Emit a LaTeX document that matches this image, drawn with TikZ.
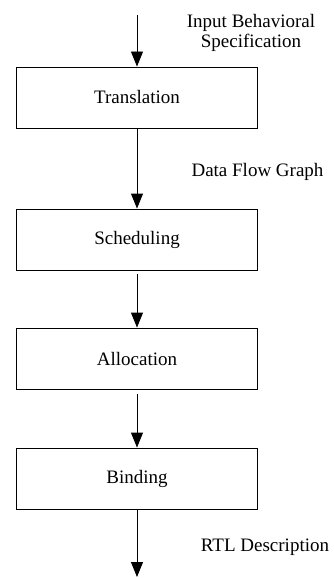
\documentclass[tikz,border=0pt]{standalone}
\usepackage{fontspec}
\setmainfont{Liberation Serif}
\usetikzlibrary{arrows.meta}

\begin{document}
\begin{tikzpicture}[x=1pt, y=-1pt, line width=0.9pt,
  >={Triangle[width=12pt,length=15pt]},
  stage/.style={draw, minimum width=241pt, minimum height=61pt, inner sep=0pt}]
\fontsize{19}{20.5}\selectfont
\useasboundingbox (0,0) rectangle (334,578);
\coordinate (in) at (137, 15);
\coordinate (out) at (137, 577);
\node[stage] at (137, 97.5)  (trans) {Translation};
\node[stage] at (137, 239.5) (sched) {Scheduling};
\node[stage] at (137, 358.5) (alloc) {Allocation};
\node[stage] at (137, 478.5) (bind)  {Binding};
\node[align=center, inner sep=0pt] at (251, 33) (spec) {Input Behavioral\\Specification};
\node[anchor=base, inner sep=0pt] at (257.5, 176) (dfg) {Data Flow Graph};
\node[anchor=base, inner sep=0pt] at (265, 551) (rtl) {RTL Description};
\path (in) edge[->] (trans);
\path (trans) edge[->] (sched);
\path (sched) edge[->, shorten <=4pt] (alloc);
\path (alloc) edge[->, shorten <=5pt] (bind);
\path (bind) edge[->] (out);
\end{tikzpicture}
\end{document}
